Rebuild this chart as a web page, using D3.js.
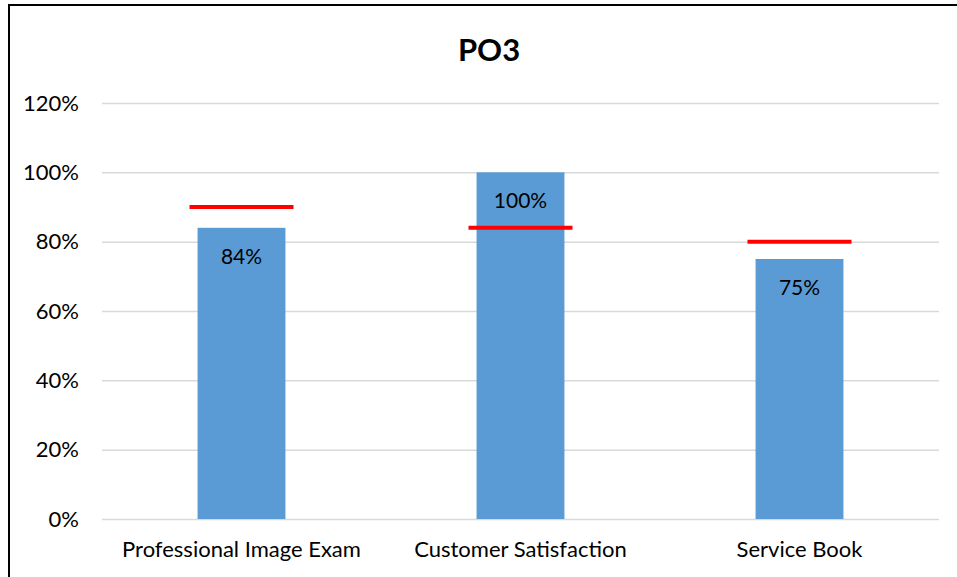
<!DOCTYPE html>
<html>
<head>
<meta charset="utf-8">
<script src="https://cdn.jsdelivr.net/npm/d3@7"></script>
<style>
  body { margin: 0; background: #fff; }
  text { font-family: Lato, 'Open Sans', sans-serif; fill: #000; }
</style>
</head>
<body>
<div id="chart"></div>
<script>
// Datos
categorias = ['Professional Image Exam', 'Customer Satisfaction', 'Service Book']
valores    = [84, 100, 75]
metas      = [90, 84, 80]
ticks      = [0, 20, 40, 60, 80, 100, 120]

anchototal = 957
altototal  = 577

margin = { top: 103, left: 102, right: 18, bottom: 58 }
ancho = anchototal - margin.left - margin.right
alto  = altototal - margin.top - margin.bottom

svg = d3.select('#chart')
  .append('svg')
  .attr('width', anchototal)
  .attr('height', altototal)

// Marco
svg.append('rect')
  .attr('x', 9).attr('y', 5)
  .attr('width', 970).attr('height', 600)
  .attr('fill', 'none')
  .attr('stroke', '#000')
  .attr('stroke-width', 2)

svg.append('text')
  .attr('x', 489).attr('y', 61)
  .attr('text-anchor', 'middle')
  .style('font-size', '31px')
  .style('font-weight', 'bold')
  .text('PO3')

g = svg.append('g')
  .attr('transform', `translate(${margin.left}, ${margin.top})`)

x = d3.scaleBand().domain(categorias).range([0, ancho]).paddingInner(0.685).paddingOuter(0.3425)
y = d3.scaleLinear().domain([0, 120]).range([alto, 0])

// Grid
yAxis = g.append('g')
  .call(d3.axisLeft(y).tickValues(ticks).tickSize(-ancho).tickFormat(d => d + '%'))
yAxis.select('.domain').remove()
yAxis.selectAll('.tick line').attr('stroke', '#d9d9d9').attr('stroke-width', 1.5)
yAxis.selectAll('.tick text')
  .attr('x', -23)
  .style('font-size', '22px')
  .style('font-family', 'Lato, sans-serif')
  .attr('fill', '#000')

// Barras
g.selectAll('.bar')
  .data(valores)
  .enter()
  .append('rect')
    .attr('class', 'bar')
    .attr('x', (d, i) => x(categorias[i]))
    .attr('y', d => y(d))
    .attr('width', x.bandwidth())
    .attr('height', d => alto - y(d))
    .attr('fill', '#5b9bd5')

g.selectAll('.lbl')
  .data(valores)
  .enter()
  .append('text')
    .attr('x', (d, i) => x(categorias[i]) + x.bandwidth() / 2)
    .attr('y', d => y(d) + 36)
    .attr('text-anchor', 'middle')
    .style('font-size', '21px')
    .text(d => d + '%')

// Metas
g.selectAll('.meta')
  .data(metas)
  .enter()
  .append('line')
    .attr('x1', (d, i) => x(categorias[i]) + x.bandwidth() / 2 - 52)
    .attr('x2', (d, i) => x(categorias[i]) + x.bandwidth() / 2 + 52)
    .attr('y1', d => y(d))
    .attr('y2', d => y(d))
    .attr('stroke', '#ff0000')
    .attr('stroke-width', 4)

// Eje x
g.selectAll('.cat')
  .data(categorias)
  .enter()
  .append('text')
    .attr('x', d => x(d) + x.bandwidth() / 2)
    .attr('y', alto + 38)
    .attr('text-anchor', 'middle')
    .style('font-size', '22px')
    .text(d => d)
</script>
</body>
</html>
